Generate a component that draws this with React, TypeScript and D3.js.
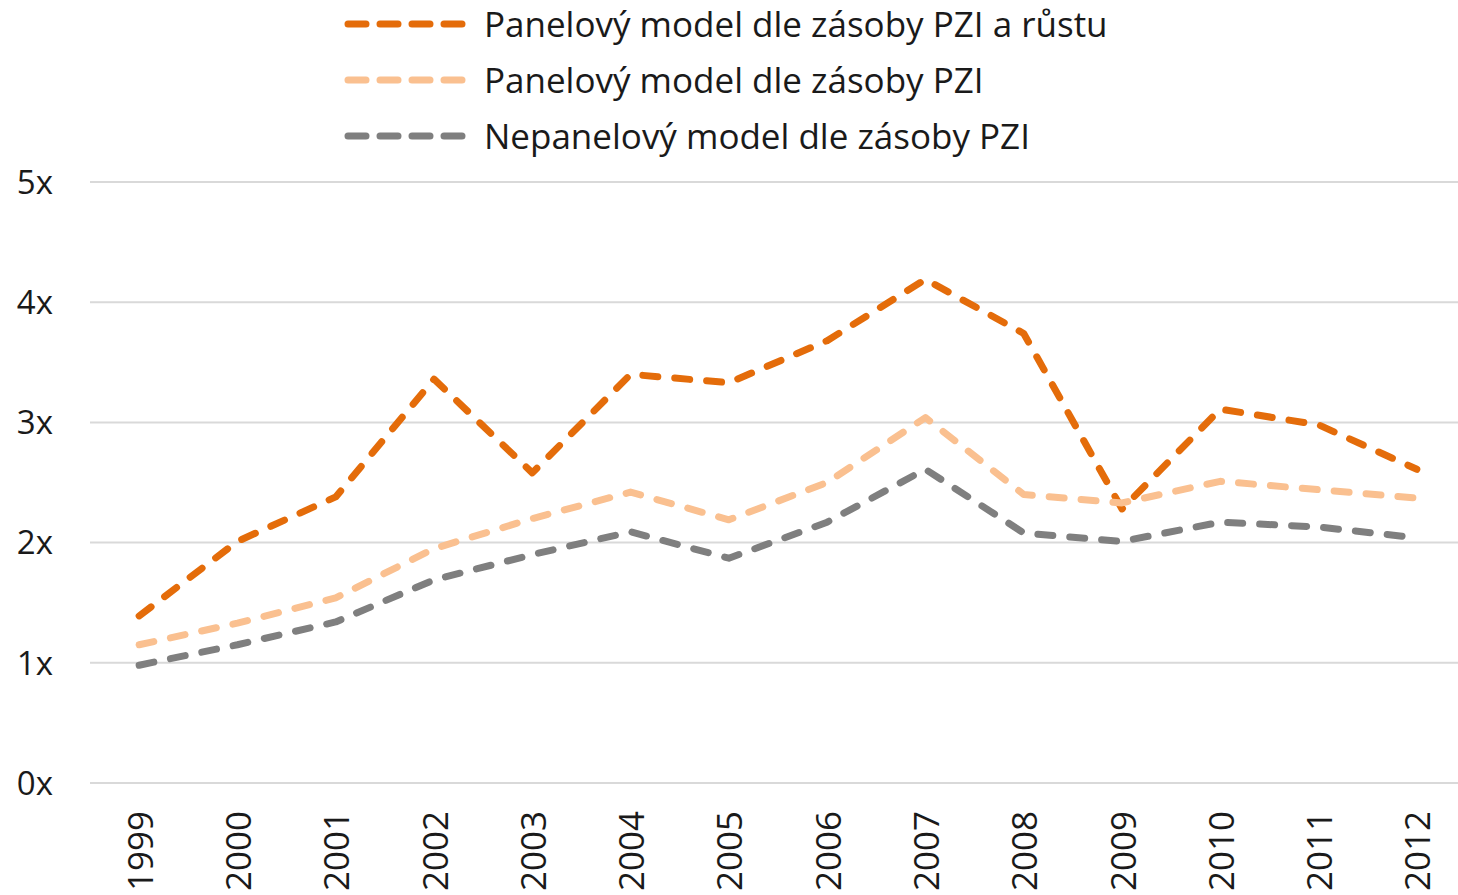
import React from "react";
import * as d3 from "d3";

const years = ["1999","2000","2001","2002","2003","2004","2005","2006","2007","2008","2009","2010","2011","2012"];
const panelGrowth = [1.39, 2.01, 2.38, 3.36, 2.58, 3.40, 3.33, 3.68, 4.19, 3.74, 2.28, 3.11, 2.98, 2.61];
const panelStock = [1.15, 1.33, 1.54, 1.95, 2.20, 2.42, 2.19, 2.50, 3.04, 2.40, 2.33, 2.51, 2.44, 2.37];
const nonPanelStock = [0.98, 1.15, 1.34, 1.69, 1.90, 2.09, 1.87, 2.17, 2.61, 2.08, 2.01, 2.17, 2.13, 2.04];
const yTicks = [0, 1, 2, 3, 4, 5];
const yTickLabels = ["0x", "1x", "2x", "3x", "4x", "5x"];
const seriesNames = [
  "Panelový model dle zásoby PZI a růstu",
  "Panelový model dle zásoby PZI",
  "Nepanelový model dle zásoby PZI",
];
const seriesColors = ["#E46C0A", "#FAC090", "#7F7F7F"];

const W = 1458, H = 895;
const plotLeft = 90, plotRight = 1458, plotTop = 182, plotBottom = 783;
const font = "'Open Sans', 'Noto Sans', sans-serif";

export default function App() {
  const x = d3.scaleBand<string>().domain(years).range([plotLeft, plotLeft + 1376]);
  const y = d3.scaleLinear().domain([0, 5]).range([plotBottom, plotTop]);
  const line = d3.line<number>()
    .x((_, i) => (x(years[i]) as number) + x.bandwidth() / 2)
    .y((d) => y(d));
  const allSeries = [panelGrowth, panelStock, nonPanelStock];
  const dash = "15 17";

  return (
    <svg width={W} height={H} style={{ position: "absolute", left: 0, top: 0, background: "#fff" }}>
      {yTicks.map((t, i) => (
        <g key={t}>
          <line x1={plotLeft} x2={plotRight} y1={y(t)} y2={y(t)} stroke="#D9D9D9" strokeWidth={2} />
          <text x={53} y={y(t)} dy="0.36em" textAnchor="end" fontFamily={font} fontSize={33} fill="#1a1a1a">
            {yTickLabels[i]}
          </text>
        </g>
      ))}
      {years.map((yr) => {
        const cx = (x(yr) as number) + x.bandwidth() / 2;
        return (
          <text key={yr} transform={`translate(${cx},${811}) rotate(-90)`} textAnchor="end" dominantBaseline="central"
            fontFamily={font} fontSize={35} fill="#1a1a1a">
            {yr}
          </text>
        );
      })}
      {allSeries.map((s, i) => (
        <path key={i} d={line(s) as string} fill="none" stroke={seriesColors[i]} strokeWidth={7}
          strokeDasharray={dash} strokeLinecap="round" strokeLinejoin="round" />
      ))}
      {seriesNames.map((n, i) => {
        const ly = 24 + i * 56;
        return (
          <g key={n}>
            <line x1={348} x2={462} y1={ly} y2={ly} stroke={seriesColors[i]} strokeWidth={7}
              strokeDasharray="18 14" strokeLinecap="round" />
            <text x={484} y={ly} dy="0.36em" fontFamily={font} fontSize={35} fill="#1a1a1a">{n}</text>
          </g>
        );
      })}
    </svg>
  );
}
